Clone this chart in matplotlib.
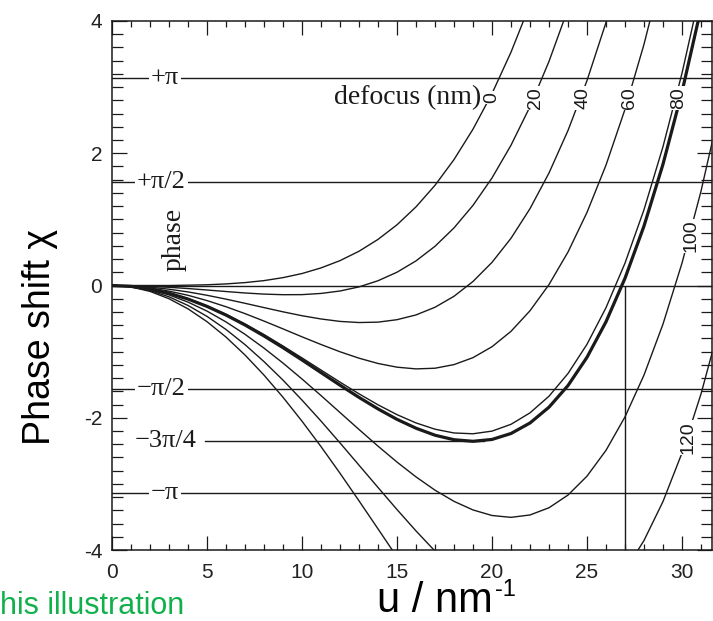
import numpy as np
import matplotlib
matplotlib.use("Agg")
import matplotlib.pyplot as plt

plt.rcParams['font.family'] = ['Liberation Sans', 'DejaVu Sans']
plt.rcParams['axes.unicode_minus'] = False

nan = float('nan')

# spatial frequency u (nm^-1)
u = [0, 1, 2, 3, 4, 5, 6, 7, 8, 9, 10, 11, 12, 13, 14, 15, 16,
     17, 18, 19, 20, 21, 22, 23, 24, 25, 26, 27, 28, 29, 30, 31, 32]

# phase shift chi, one list per defocus (nm)
chi_0 = [0, 0.0, 0.0, 0.0, 0.005, 0.011, 0.024, 0.044, 0.074, 0.119, 0.181,
         0.266, 0.376, 0.518, 0.697, 0.918, 1.189, 1.515, 1.904, 2.364, 2.902,
         3.528, 4.249] + [nan] * 10
chi_20 = [0, -0.003, -0.013, -0.027, -0.046, -0.068, -0.091, -0.113, -0.130,
          -0.139, -0.138, -0.120, -0.083, -0.021, 0.072, 0.201, 0.372, 0.593,
          0.871, 1.212, 1.626, 2.121, 2.705, 3.389, 4.181] + [nan] * 8
chi_40 = [0, -0.006, -0.025, -0.056, -0.097, -0.148, -0.206, -0.269, -0.334,
          -0.398, -0.457, -0.506, -0.543, -0.560, -0.554, -0.517, -0.445,
          -0.329, -0.163, 0.061, 0.350, 0.714, 1.162, 1.701, 2.344, 3.098,
          3.977, 4.989] + [nan] * 5
chi_60 = [0, -0.010, -0.038, -0.085, -0.148, -0.228, -0.321, -0.425, -0.538,
          -0.656, -0.776, -0.892, -1.002, -1.099, -1.179, -1.235, -1.261,
          -1.251, -1.196, -1.091, -0.926, -0.693, -0.382, 0.014, 0.506, 1.105,
          1.820, 2.664, 3.647, 4.782] + [nan] * 3
chi_80 = [0, -0.013, -0.051, -0.113, -0.200, -0.308, -0.436, -0.582, -0.742,
          -0.915, -1.095, -1.278, -1.461, -1.638, -1.804, -1.953, -2.078,
          -2.173, -2.230, -2.242, -2.202, -2.099, -1.926, -1.674, -1.331,
          -0.889, -0.336, 0.338, 1.146, 2.099, 3.209, 4.490] + [nan]
# thick curve (optimum defocus, min at -3pi/4)
chi_opt = [0, -0.013, -0.052, -0.116, -0.205, -0.316, -0.447, -0.597, -0.763,
           -0.940, -1.126, -1.317, -1.507, -1.692, -1.866, -2.024, -2.158,
           -2.264, -2.332, -2.356, -2.328, -2.238, -2.079, -1.840, -1.513,
           -1.086, -0.549, 0.109, 0.899, 1.834, 2.926, 4.188] + [nan]
chi_100 = [0, -0.016, -0.064, -0.142, -0.251, -0.387, -0.551, -0.738, -0.947,
           -1.173, -1.414, -1.664, -1.921, -2.177, -2.429, -2.670, -2.894,
           -3.095, -3.264, -3.394, -3.478, -3.506, -3.470, -3.361, -3.169,
           -2.883, -2.493, -1.987, -1.355, -0.584, 0.338, 1.425, 2.688]
chi_120 = [0, -0.019, -0.076, -0.171, -0.302, -0.467, -0.665, -0.894, -1.151,
           -1.431, -1.733, -2.050, -2.380, -2.717, -3.054, -3.388, -3.711,
           -4.016] + [nan] * 9 + [-4.313, -3.856, -3.267, -2.533, -1.641, -0.578]
chi_140 = [0, -0.022, -0.089, -0.200, -0.353, -0.547, -0.780, -1.051, -1.355,
           -1.690, -2.052, -2.436, -2.839, -3.256, -3.680, -4.106] + [nan] * 17

curves = [chi_0, chi_20, chi_40, chi_60, chi_80, chi_100, chi_120, chi_140]

# curve labels: text, u, chi
curve_labels = ["0", "20", "40", "60", "80", "100", "120"]
label_u = [20.0, 22.3, 24.8, 27.25, 29.8, 30.45, 30.3]
label_chi = [2.84, 2.84, 2.84, 2.84, 2.84, 0.75, -2.3]

# reference phase levels
ref_levels = [np.pi, np.pi / 2, 0, -np.pi / 2, -3 * np.pi / 4, -np.pi]
ref_text = ["+π", "+π/2", "", "−π/2", "−3π/4", "−π"]
ref_text_u = [2.8, 2.6, 0, 2.6, 2.8, 2.8]
ref_start = [0, 0, 0, 0, 4.9, 0]
ref_end = [31.6, 31.6, 31.6, 31.6, 19.6, 31.6]

vline_u = 27.0

ink = '#1a1a1a'
serif = ['Liberation Serif', 'DejaVu Serif']

fig = plt.figure(figsize=(7.13, 6.21), dpi=100)
ax = fig.add_axes([0.1571, 0.1143, 0.8415, 0.8519])

for lvl, x0, x1 in zip(ref_levels, ref_start, ref_end):
    ax.plot([x0, x1], [lvl, lvl], color=ink, lw=1.0, zorder=1)
for txt, xu, lvl in zip(ref_text, ref_text_u, ref_levels):
    if txt:
        ax.text(xu, lvl, txt, family=serif, fontsize=19, ha='center', va='center',
                color=ink, zorder=3,
                bbox=dict(boxstyle='square,pad=0.08', fc='white', ec='none'))

ax.vlines(vline_u, -4, 0, color=ink, lw=1.0, zorder=1)

for chi in curves:
    ax.plot(u, chi, color=ink, lw=1.0, zorder=2)
ax.plot(u, chi_opt, color=ink, lw=2.3, zorder=2)

for txt, xu, yc in zip(curve_labels, label_u, label_chi):
    ax.text(xu, yc, txt, fontsize=14, rotation=90, ha='center', va='center',
            color=ink, zorder=4,
            bbox=dict(boxstyle='square,pad=0.05', fc='white', ec='none'))

ax.text(19.45, 2.84, "defocus (nm)", family=serif, fontsize=20, ha='right',
        va='center', color=ink, zorder=4)
ax.text(3.25, 0.7, "phase", family=serif, fontsize=20, rotation=90,
        ha='center', va='center', color=ink, zorder=4)

ax.set_xlim(0, 31.58)
ax.set_ylim(-4, 4)
ax.set_xticks([0, 5, 10, 15, 20, 25, 30])
ax.set_xticks(range(0, 32), minor=True)
ax.set_yticks([-4, -2, 0, 2, 4])
ax.set_yticks(np.arange(-4, 4.01, 0.2), minor=True)
ax.tick_params(which='both', direction='in', top=True, right=True,
               width=0.9, color=ink, labelsize=15, labelcolor='#222222')
ax.tick_params(axis='x', which='major', length=10, pad=9)
ax.tick_params(axis='x', which='minor', length=4.3)
ax.tick_params(axis='y', which='major', length=11, pad=7)
ax.tick_params(axis='y', which='minor', length=8)
for s in ax.spines.values():
    s.set_linewidth(1.1)
    s.set_color(ink)

fig.text(0.056, 0.457, "Phase shift χ", rotation=90, fontsize=27,
         ha='center', va='center', color='black')

# x label with a plain "-1" superscript placed after the main text
xl = fig.text(0.529, 0.014, "u / nm", fontsize=30, ha='left',
              va='baseline', color='black')
renderer = fig.canvas.get_renderer()
bb = xl.get_window_extent(renderer=renderer)
fig.text(bb.x1 / fig.bbox.width + 0.003, 0.014 + 0.027, "-1", fontsize=17,
         ha='left', va='baseline', color='black')

fig.text(0.0, 0.012, "his illustration", fontsize=22, ha='left',
         va='baseline', color='#12b04c')

fig.savefig('out.png', dpi=100)
